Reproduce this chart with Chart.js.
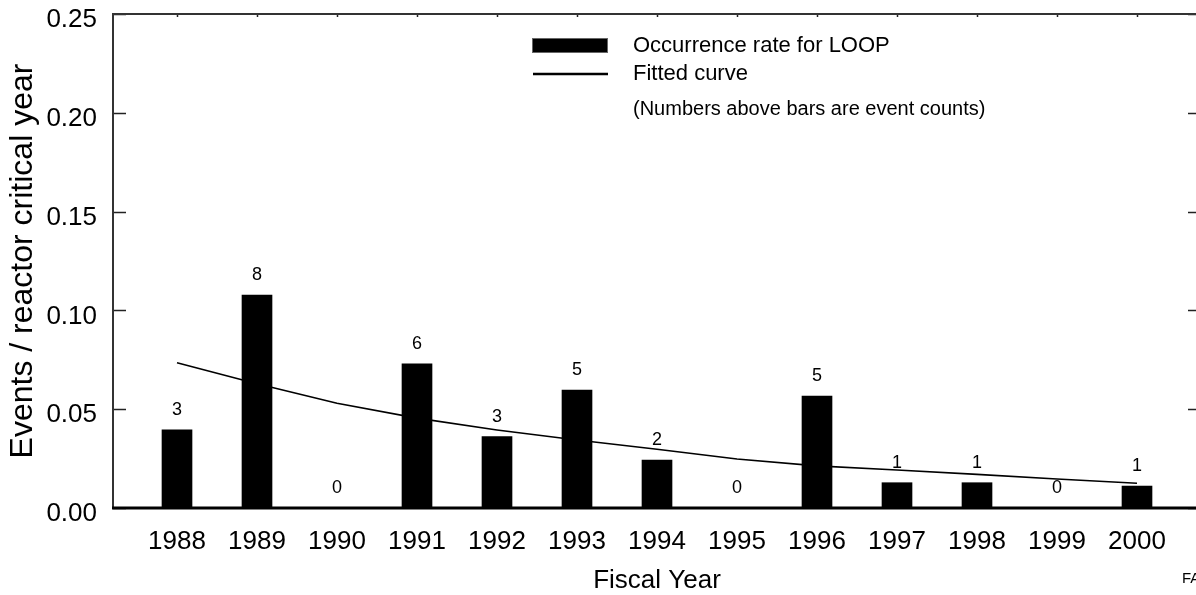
<!DOCTYPE html>
<html>
<head>
<meta charset="utf-8">
<script src="https://cdn.jsdelivr.net/npm/chart.js@4.4.1/dist/chart.umd.min.js"></script>
<style>
  html, body { margin: 0; padding: 0; background: #fff; overflow: hidden; }
  #wrap { width: 1196px; height: 595px; overflow: hidden; position: relative; }
  #wrap canvas { position: absolute; left: 0; top: 0; }
</style>
</head>
<body>
<div id="wrap"><canvas id="chart" width="1212" height="595"></canvas></div>
<script>
const FONT = "'Liberation Sans', Arial, Helvetica, sans-serif";

// valores
const years = [1988, 1989, 1990, 1991, 1992, 1993, 1994, 1995, 1996, 1997, 1998, 1999, 2000];
const rates = [0.0395, 0.1078, 0, 0.0729, 0.0361, 0.0597, 0.0243, 0, 0.0567, 0.0128, 0.0128, 0, 0.0111];
const counts = [3, 8, 0, 6, 3, 5, 2, 0, 5, 1, 1, 0, 1];
const fitted = [0.0735, 0.0629, 0.0530, 0.0455, 0.0395, 0.0344, 0.0297, 0.0248, 0.0213, 0.0192, 0.0170, 0.0147, 0.0125];
const yTicks = [0, 0.05, 0.10, 0.15, 0.20, 0.25];

// Desenha moldura, marcas internas, rótulos das barras e legenda
const decorPlugin = {
    id: 'decor',
    afterDatasetsDraw(chart) {
        const { ctx, chartArea: a, scales: { x, y } } = chart;
        ctx.save();

        // marcas nos eixos (para dentro)
        ctx.strokeStyle = '#222';
        ctx.lineWidth = 1.5;
        yTicks.forEach((v) => {
            const py = Math.round(y.getPixelForValue(v)) + 0.5;
            ctx.beginPath();
            ctx.moveTo(a.left, py); ctx.lineTo(a.left + 13, py);
            ctx.moveTo(a.right - 13, py); ctx.lineTo(a.right, py);
            ctx.stroke();
        });
        years.forEach((v) => {
            const px = Math.round(x.getPixelForValue(v)) + 0.5;
            ctx.beginPath();
            ctx.moveTo(px, a.top); ctx.lineTo(px, a.top + 3);
            ctx.stroke();
        });

        // moldura
        ctx.strokeStyle = '#333';
        ctx.lineWidth = 2;
        ctx.beginPath();
        ctx.moveTo(a.left, a.bottom);
        ctx.lineTo(a.left, a.top);
        ctx.lineTo(a.right, a.top);
        ctx.lineTo(a.right, a.bottom);
        ctx.stroke();
        ctx.strokeStyle = '#000';
        ctx.lineWidth = 3;
        ctx.beginPath();
        ctx.moveTo(a.left - 1, a.bottom);
        ctx.lineTo(a.right, a.bottom);
        ctx.stroke();

        // contagens acima das barras
        ctx.fillStyle = '#000';
        ctx.font = '18px ' + FONT;
        ctx.textAlign = 'center';
        ctx.textBaseline = 'middle';
        chart.getDatasetMeta(0).data.forEach((bar, i) => {
            ctx.fillText(String(counts[i]), bar.x, bar.y - 20);
        });

        // legenda
        const lx = a.left + 419;
        const bars = chart.data.datasets[0];
        const line = chart.data.datasets[1];
        ctx.fillStyle = '#000';
        ctx.fillRect(lx, a.top + 24, 76, 15);
        ctx.strokeStyle = '#666';
        ctx.lineWidth = 1;
        ctx.strokeRect(lx + 0.5, a.top + 24.5, 75, 14);
        ctx.strokeStyle = '#000';
        ctx.lineWidth = 2.5;
        ctx.beginPath();
        ctx.moveTo(lx + 1, a.top + 60);
        ctx.lineTo(lx + 76, a.top + 60);
        ctx.stroke();

        ctx.textAlign = 'left';
        ctx.font = '22px ' + FONT;
        ctx.fillText(bars.label, lx + 101, a.top + 32);
        ctx.fillText(line.label, lx + 101, a.top + 60);
        ctx.font = '20px ' + FONT;
        ctx.fillText('(Numbers above bars are event counts)', lx + 101, a.top + 95);

        // marca de canto
        ctx.font = '15px ' + FONT;
        ctx.fillText('FA', 1182, 579);
        ctx.restore();
    }
};

const ctx = document.getElementById('chart').getContext('2d');
new Chart(ctx, {
    data: {
        datasets: [
            {
                type: 'bar',
                label: 'Occurrence rate for LOOP',
                data: years.map((yr, i) => ({ x: yr, y: rates[i] })),
                backgroundColor: '#000',
                borderWidth: 0,
                barThickness: 30,
                order: 2
            },
            {
                type: 'line',
                label: 'Fitted curve',
                data: years.map((yr, i) => ({ x: yr, y: fitted[i] })),
                borderColor: '#000',
                borderWidth: 1.6,
                pointRadius: 0,
                tension: 0,
                fill: false,
                order: 1
            }
        ]
    },
    options: {
        responsive: false,
        animation: false,
        events: [],
        layout: { padding: { top: 14, right: 11, left: 0, bottom: 0 } },
        plugins: {
            legend: { display: false },
            tooltip: { enabled: false }
        },
        scales: {
            x: {
                type: 'linear',
                offset: false,
                min: 1987.2,
                max: 2000.8,
                afterBuildTicks: (s) => { s.ticks = years.map((v) => ({ value: v })); },
                afterFit: (s) => { s.height = 87; s.paddingLeft = 0; s.paddingRight = 0; },
                grid: { display: false, drawTicks: false, offset: false },
                border: { display: false },
                ticks: {
                    color: '#000',
                    font: { family: FONT, size: 26 },
                    padding: 18,
                    maxRotation: 0,
                    autoSkip: false,
                    callback: (v) => String(v)
                },
                title: {
                    display: true,
                    text: 'Fiscal Year',
                    color: '#000',
                    font: { family: FONT, size: 26 },
                    padding: { top: 0, bottom: -1 }
                }
            },
            y: {
                min: 0,
                max: 0.25,
                afterBuildTicks: (s) => { s.ticks = yTicks.map((v) => ({ value: v })); },
                afterFit: (s) => { s.width = 113; s.paddingTop = 0; s.paddingBottom = 0; },
                grid: { display: false, drawTicks: false },
                border: { display: false },
                ticks: {
                    color: '#000',
                    font: { family: FONT, size: 26 },
                    padding: 16,
                    labelOffset: 6,
                    callback: (v) => Number(v).toFixed(2)
                },
                title: {
                    display: true,
                    text: 'Events / reactor critical year',
                    color: '#000',
                    font: { family: FONT, size: 32 },
                    padding: { top: 4, bottom: 0 }
                }
            }
        }
    },
    plugins: [decorPlugin]
});
</script>
</body>
</html>
